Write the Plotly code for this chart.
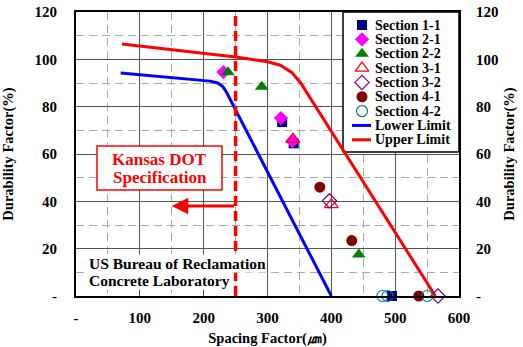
import plotly.graph_objects as go

# ---------------- data ----------------
x_tickvals = [0, 100, 200, 300, 400, 500, 600]
x_ticktext = ['-', '100', '200', '300', '400', '500', '600']
y_tickvals = [0, 20, 40, 60, 80, 100, 120]
y_ticktext = ['-', '20', '40', '60', '80', '100', '120']

s11_x = [323, 341, 495]
s11_y = [73.5, 64.5, 0]
s21_x = [231, 321, 339]
s21_y = [94.6, 75.2, 65.5]
s22_x = [238, 291, 443]
s22_y = [94.5, 88.4, 17.5]
s31_x = [340, 400]
s31_y = [66.2, 38.6]
s32_x = [397, 567]
s32_y = [40.2, 0]
s41_x = [382, 432, 537]
s41_y = [46, 23.4, 0]
s42_x = [480, 488, 550]
s42_y = [0, 0, 0]

lower_x = [70, 210, 222, 230, 236, 400]
lower_y = [94.2, 90.8, 90, 88.5, 86, 0]
upper_x = [72, 250, 300, 320, 338, 352, 563]
upper_y = [106.5, 101, 99, 97.5, 94.5, 90, 0]

kdot_x = 250
arrow_tip_x = 150
arrow_y = 38

x_range = [0, 600]
y_range = [0, 120]

series_names = ['Section 1-1', 'Section 2-1', 'Section 2-2', 'Section 3-1',
                'Section 3-2', 'Section 4-1', 'Section 4-2', 'Lower Limit', 'Upper Limit']

# ---------------- styles ----------------
FONT = 'Liberation Serif'
marker_styles = [
    dict(symbol='square', color='#000080', size=10),
    dict(symbol='diamond', color='#FF00FF', size=11),
    dict(symbol='triangle-up', color='#008000', size=12),
    dict(symbol='triangle-up-open', color='#FF0000', size=12, line=dict(width=1.2, color='#FF0000')),
    dict(symbol='diamond-open', color='#800080', size=11, line=dict(width=1.2, color='#800080')),
    dict(symbol='circle', color='#800000', size=11),
    dict(symbol='circle-open', color='#008080', size=11, line=dict(width=1.2, color='#008080')),
]
series_data = [(s11_x, s11_y), (s21_x, s21_y), (s22_x, s22_y), (s31_x, s31_y),
               (s32_x, s32_y), (s41_x, s41_y), (s42_x, s42_y)]

fig = go.Figure()

fig.add_trace(go.Scatter(x=lower_x, y=lower_y, mode='lines', name='Lower Limit',
                         line=dict(color='#0000FF', width=3)))
fig.add_trace(go.Scatter(x=upper_x, y=upper_y, mode='lines', name='Upper Limit',
                         line=dict(color='#FF0000', width=3)))
for (xs, ys), st, nm in zip(series_data, marker_styles, series_names):
    fig.add_trace(go.Scatter(x=xs, y=ys, mode='markers', name=nm, marker=st, cliponaxis=False))

# invisible trace to activate right axis
fig.add_trace(go.Scatter(x=[None], y=[None], yaxis='y2', showlegend=False, hoverinfo='skip'))

# ---------------- layout helpers (window px -> fraction of plot area) ----------------
L, R, T, B = 76, 459, 12, 296   # plot area in window pixels
W, H = 523, 347

def fx(px):
    return (px - L) / (R - L)
def fy(py):
    return (B - py) / (B - T)
def dx(px):
    return x_range[0] + fx(px) * (x_range[1] - x_range[0])
def dy(py):
    return y_range[0] + fy(py) * (y_range[1] - y_range[0])

# legend box (above grid, below traces)
fig.add_shape(type='rect', xref='x', yref='y', x0=dx(343), x1=dx(R), y0=dy(152), y1=dy(T),
              fillcolor='white', line=dict(color='black', width=1.5), layer='between')
# Kansas DOT box
fig.add_shape(type='rect', xref='x', yref='y', x0=dx(97), x1=dx(222), y0=dy(190), y1=dy(146),
              fillcolor='white', line=dict(color='#FF0000', width=1.5), layer='between')

leg_y0 = 25
leg_dy = 14.35
for i, nm in enumerate(series_names):
    py = leg_y0 + i * leg_dy
    if i < 7:
        fig.add_trace(go.Scatter(x=[fx(362)], y=[fy(py)], xaxis='x2', yaxis='y3', mode='markers',
                                 marker=marker_styles[i], showlegend=False, hoverinfo='skip',
                                 cliponaxis=False))
    else:
        col = '#0000FF' if i == 7 else '#FF0000'
        fig.add_trace(go.Scatter(x=[fx(352), fx(371)], y=[fy(py), fy(py)], xaxis='x2', yaxis='y3',
                                 mode='lines', line=dict(color=col, width=3), showlegend=False,
                                 hoverinfo='skip', cliponaxis=False))
    fig.add_annotation(xref='paper', yref='paper', x=fx(373), y=fy(py), xanchor='left', yanchor='middle',
                       text='<b>' + nm + '</b>', showarrow=False,
                       font=dict(family=FONT, size=14, color='black'))

# Kansas DOT spec line
fig.add_shape(type='line', xref='x', yref='y', x0=kdot_x, x1=kdot_x, y0=y_range[0], y1=y_range[1],
              line=dict(color='#FF0000', width=3.5, dash='10px,5px'), layer='above')
fig.add_annotation(x=arrow_tip_x, y=arrow_y, ax=kdot_x, ay=arrow_y, axref='x', ayref='y',
                   xref='x', yref='y', showarrow=True, arrowhead=2, arrowsize=1.1,
                   arrowwidth=3, arrowcolor='#FF0000', text='')

fig.add_annotation(xref='paper', yref='paper', x=fx(159.5), y=fy(159.5), text='<b>Kansas DOT</b>',
                   xanchor='center', yanchor='middle',
                   showarrow=False, font=dict(family=FONT, size=17, color='#FF0000'))
fig.add_annotation(xref='paper', yref='paper', x=fx(159.5), y=fy(177.5), text='<b>Specification</b>',
                   xanchor='center', yanchor='middle',
                   showarrow=False, font=dict(family=FONT, size=17, color='#FF0000'))

# US Bureau text
fig.add_annotation(xref='paper', yref='paper', x=fx(88), y=fy(263.5), xanchor='left', yanchor='middle',
                   text='<b>US Bureau of Reclamation</b>', showarrow=False, bgcolor='white',
                   borderpad=0, font=dict(family=FONT, size=15.5, color='black'))
fig.add_annotation(xref='paper', yref='paper', x=fx(88), y=fy(280.5), xanchor='left', yanchor='middle',
                   text='<b>Concrete Laboratory</b>', showarrow=False, bgcolor='white',
                   borderpad=0, font=dict(family=FONT, size=15.5, color='black'))

tickfont = dict(family=FONT, size=15, color='black', weight='bold')
titlefont = dict(family=FONT, size=14.5, color='black', weight='bold')

fig.update_layout(
    width=W, height=H,
    margin=dict(l=L, r=W - R, t=T, b=H - B),
    plot_bgcolor='white', paper_bgcolor='white',
    showlegend=False,
    font=dict(family=FONT, size=14, color='black'),
    xaxis=dict(range=x_range, tickmode='array', tickvals=x_tickvals, ticktext=x_ticktext,
               showgrid=True, gridcolor='#555555', gridwidth=1,
               minor=dict(tickmode='linear', tick0=0, dtick=50, showgrid=True,
                          gridcolor='#AAAAAA', griddash='8px,5px', gridwidth=1),
               showline=True, mirror=True, linecolor='black', linewidth=2,
               ticks='', zeroline=False, tickfont=tickfont, ticklabelstandoff=7,
               automargin=False, ticklabeloverflow='allow',
               title=dict(text='Spacing Factor(㎛)', font=titlefont, standoff=8)),
    yaxis=dict(range=y_range, tickmode='array', tickvals=y_tickvals, ticktext=y_ticktext,
               showgrid=True, gridcolor='#555555', gridwidth=1,
               minor=dict(tickmode='linear', tick0=0, dtick=10, showgrid=True,
                          gridcolor='#AAAAAA', griddash='8px,5px', gridwidth=1),
               showline=True, mirror=True, linecolor='black', linewidth=2,
               ticks='', zeroline=False, tickfont=tickfont, ticklabelstandoff=14,
               automargin=False, ticklabeloverflow='allow',
               title=dict(text='Durability Factor(%)', font=titlefont, standoff=18)),
    yaxis2=dict(range=y_range, overlaying='y', side='right', tickmode='array',
                tickvals=y_tickvals, ticktext=y_ticktext, showgrid=False, zeroline=False,
                showline=False, ticks='', tickfont=tickfont, ticklabelstandoff=16,
                automargin=False, ticklabeloverflow='allow',
                title=dict(text='Durability Factor(%)', font=titlefont, standoff=6)),
    xaxis2=dict(range=[0, 1], overlaying='x', visible=False, anchor='y3'),
    yaxis3=dict(range=[0, 1], overlaying='y', visible=False),
)

fig.write_html('out.html', config={'displayModeBar': False},
               post_script="document.body.style.margin='0px';")
